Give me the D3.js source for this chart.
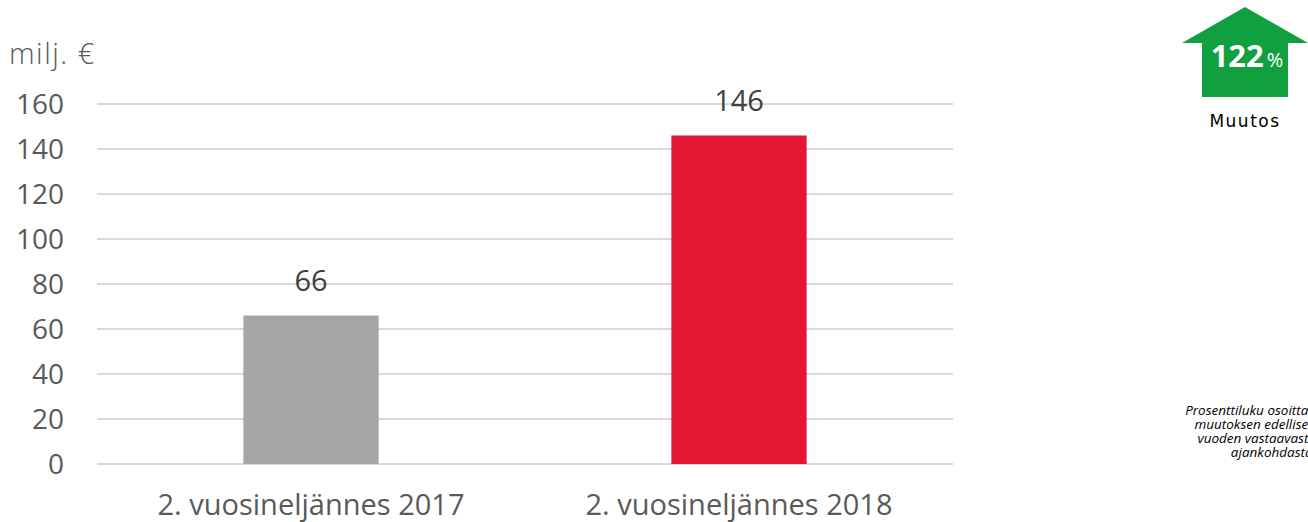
<!DOCTYPE html>
<html>
<head>
<meta charset="utf-8">
<script src="https://cdn.jsdelivr.net/npm/d3@7"></script>
<style>
  body { margin: 0; background: #fff; }
  svg { font-family: "Open Sans", sans-serif; }
</style>
</head>
<body>
<div id="chart"></div>
<script>
// data
var categories = ['2. vuosineljännes 2017', '2. vuosineljännes 2018'];
var values = [66, 146];
var barColors = ['#a5a5a5', '#e31731'];
var yTicks = [0, 20, 40, 60, 80, 100, 120, 140, 160];
var changePct = 122;
var unitLabel = 'milj. €';
var noteLines = ['Prosenttiluku osoittaa', 'muutoksen edellisen', 'vuoden vastaavasta', 'ajankohdasta.'];

var W = 1308, H = 522;
var margin = {top: 104, left: 97, right: 355, bottom: 58};
var width = W - margin.left - margin.right;
var height = H - margin.top - margin.bottom;

var svg = d3.select('#chart').append('svg')
    .attr('width', W)
    .attr('height', H);

var g = svg.append('g')
    .attr('transform', 'translate(' + margin.left + ',' + margin.top + ')');

var x = d3.scaleBand().domain(categories).range([0, width]).padding(0);
var y = d3.scaleLinear().domain([0, 160]).range([height, 0]);
var barW = x.bandwidth() * 0.316;

// gridlines
g.selectAll('line.grid').data(yTicks).enter().append('line')
    .attr('x1', 0).attr('x2', width)
    .attr('y1', function(d) { return y(d); })
    .attr('y2', function(d) { return y(d); })
    .style('stroke', '#d9d9d9')
    .style('stroke-width', 2);

// y labels
g.selectAll('text.ytick').data(yTicks).enter().append('text')
    .attr('x', -33)
    .attr('y', function(d) { return y(d); })
    .attr('dy', '0.36em')
    .attr('text-anchor', 'end')
    .style('font-size', '28px')
    .style('fill', '#595959')
    .text(function(d) { return d; });

svg.append('text')
    .attr('x', 9).attr('y', 64)
    .style('font-size', '29px')
    .style('font-weight', 300)
    .style('letter-spacing', '1.5px')
    .style('fill', '#595959')
    .text(unitLabel);

// bars
g.selectAll('rect.bar').data(values).enter().append('rect')
    .attr('x', function(d, i) { return x(categories[i]) + x.bandwidth() / 2 - barW / 2; })
    .attr('y', function(d) { return y(d); })
    .attr('width', barW)
    .attr('height', function(d) { return height - y(d); })
    .style('fill', function(d, i) { return barColors[i]; });

// value labels
g.selectAll('text.val').data(values).enter().append('text')
    .attr('x', function(d, i) { return x(categories[i]) + x.bandwidth() / 2; })
    .attr('y', function(d) { return y(d) - 25; })
    .attr('text-anchor', 'middle')
    .style('font-size', '29px')
    .style('fill', '#404040')
    .text(function(d) { return d; });

// category labels
g.selectAll('text.cat').data(categories).enter().append('text')
    .attr('x', function(d) { return x(d) + x.bandwidth() / 2; })
    .attr('y', height + 51)
    .attr('text-anchor', 'middle')
    .style('font-size', '29px')
    .style('fill', '#595959')
    .text(function(d) { return d; });

// change arrow
var ax = 1245;
svg.append('path')
    .attr('d', 'M' + ax + ',7 L' + (ax + 63) + ',43 L' + (ax + 43) + ',43 L' + (ax + 43) + ',97 L' + (ax - 43) + ',97 L' + (ax - 43) + ',43 L' + (ax - 63) + ',43 Z')
    .style('fill', '#10a040');

var pct = svg.append('text')
    .attr('x', ax + 2).attr('y', 67)
    .attr('text-anchor', 'middle')
    .style('fill', '#fff');
pct.append('tspan').style('font-size', '31px').style('font-weight', 700).text(changePct);
pct.append('tspan').style('font-size', '20px').attr('dx', 3).text('%');

svg.append('text')
    .attr('x', ax).attr('y', 127)
    .attr('text-anchor', 'middle')
    .style('font-family', '"DejaVu Sans", sans-serif')
    .style('font-size', '17px')
    .style('letter-spacing', '1.5px')
    .style('fill', '#000')
    .text('Muutos');

svg.selectAll('text.note').data(noteLines).enter().append('text')
    .attr('x', 1316)
    .attr('y', function(d, i) { return 415 + i * 14; })
    .attr('text-anchor', 'end')
    .style('font-size', '13.5px')
    .style('font-style', 'italic')
    .style('fill', '#000')
    .text(function(d) { return d; });
</script>
</body>
</html>
